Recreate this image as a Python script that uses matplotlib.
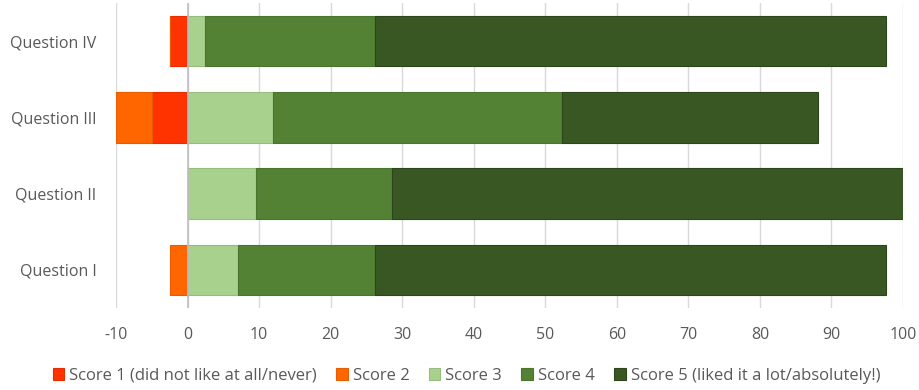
import matplotlib
matplotlib.use("Agg")
import matplotlib.pyplot as plt
import numpy as np

questions = ["Question I", "Question II", "Question III", "Question IV"]
series_names = ["Score 1 (did not like at all/never)", "Score 2", "Score 3", "Score 4",
                "Score 5 (liked it a lot/absolutely!)"]
score1 = [0.0, 0.0, -4.9, -2.4]
score2 = [-2.4, 0.0, -5.1, 0.0]
score3 = [7.1, 9.5, 11.9, 2.4]
score4 = [19.1, 19.1, 40.5, 23.8]
score5 = [71.4, 71.4, 35.7, 71.4]
colors = ["#FF3300", "#FF6600", "#A9D18E", "#548235", "#385723"]
edges = ["#E62E00", "#E65C00", "#98BC80", "#4B752F", "#2C451C"]
xticks = [-10, 0, 10, 20, 30, 40, 50, 60, 70, 80, 90, 100]

plt.rcParams['font.family'] = ['Open Sans', 'DejaVu Sans']
plt.rcParams['axes.unicode_minus'] = False
fig = plt.figure(figsize=(9.2, 3.9), dpi=100)
ax = fig.add_axes([116/920, 1-308/390, (903-116)/920, 305/390])

y = np.arange(len(questions))
h = 0.66
neg_left = np.zeros(len(questions))
for vals, c, e, name in [(score1, colors[0], edges[0], series_names[0]),
                         (score2, colors[1], edges[1], series_names[1])]:
    v = np.array(vals)
    ax.barh(y, v, left=neg_left, height=h, color=c, edgecolor=e, linewidth=0.8,
            label=name, zorder=3)
    neg_left = neg_left + v
pos_left = np.zeros(len(questions))
for vals, c, e, name in [(score3, colors[2], edges[2], series_names[2]),
                         (score4, colors[3], edges[3], series_names[3]),
                         (score5, colors[4], edges[4], series_names[4])]:
    v = np.array(vals)
    ax.barh(y, v, left=pos_left, height=h, color=c, edgecolor=e, linewidth=0.8,
            label=name, zorder=3)
    pos_left = pos_left + v

ax.set_xlim(-10, 100)
ax.set_ylim(-0.5, 3.5)
ax.set_xticks(xticks)
ax.set_yticks(y)
ax.set_yticklabels(questions)
ax.grid(axis='x', color='#D9D9D9', linewidth=1, zorder=0)
ax.axvline(0, color='#BFBFBF', linewidth=1.2, zorder=4)
for s in ax.spines.values():
    s.set_visible(False)
ax.tick_params(axis='both', length=0, colors='#595959', labelsize=11.5)
ax.tick_params(axis='y', pad=14)
ax.tick_params(axis='x', pad=14)

handles, labels = ax.get_legend_handles_labels()
fig.legend(handles, labels, loc='center', bbox_to_anchor=(0.507, 1-376/390), ncol=5,
           frameon=False, handlelength=0.7, handleheight=0.7, handletextpad=0.3,
           columnspacing=1.15, fontsize=12, labelcolor='#595959')

fig.savefig("out.png", dpi=100)
